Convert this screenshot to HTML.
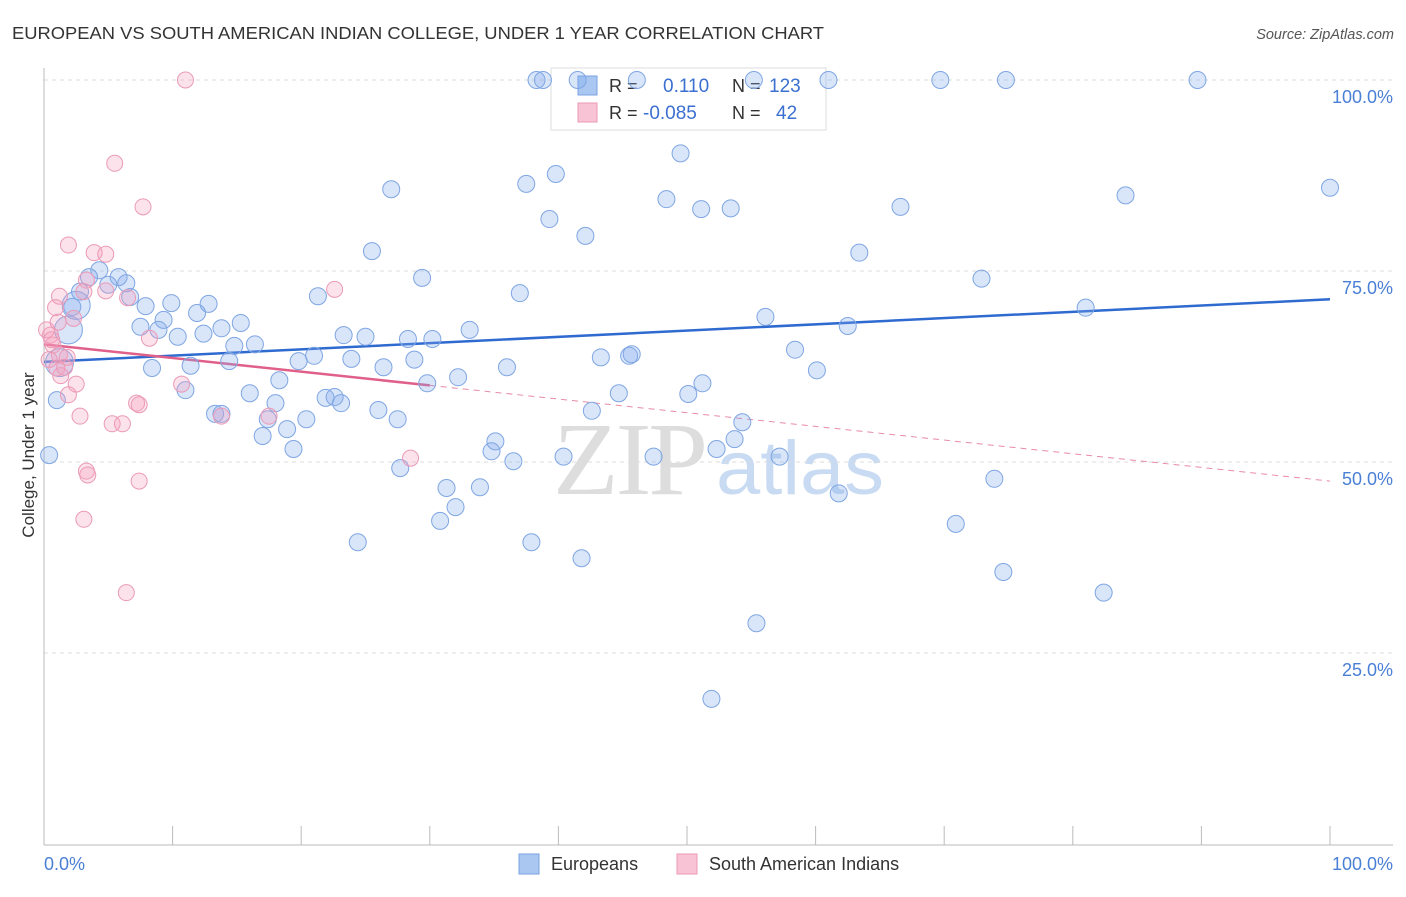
<!DOCTYPE html>
<html><head><meta charset="utf-8"><style>
body{margin:0;background:#fff;font-family:"Liberation Sans",sans-serif;}
</style></head><body>
<svg id="chart" width="1406" height="892" xmlns="http://www.w3.org/2000/svg" style="font-family:'Liberation Sans',sans-serif">
<text x="12" y="39" font-size="17.5" fill="#333" textLength="812" lengthAdjust="spacingAndGlyphs">EUROPEAN VS SOUTH AMERICAN INDIAN COLLEGE, UNDER 1 YEAR CORRELATION CHART</text>
<text x="1394" y="39" font-size="14.5" fill="#555" font-style="italic" text-anchor="end">Source: ZipAtlas.com</text>
<g>
<text x="553" y="494" font-size="104" fill="#ddd" font-family="Liberation Serif, serif" letter-spacing="-3" textLength="152" lengthAdjust="spacingAndGlyphs">ZIP</text>
<text x="716" y="494" font-size="76" fill="#c8dbf3" textLength="168" lengthAdjust="spacingAndGlyphs">atlas</text>
</g>
<g id="grid"></g><g id="axes"></g>
<g>
<rect x="551" y="68" width="275" height="62" fill="#fff" stroke="#ddd"/>
<rect x="578" y="76" width="19" height="19" fill="#aac7f2" stroke="#7aa3e0"/>
<rect x="578" y="103" width="19" height="19" fill="#f8c3d4" stroke="#eb98b5"/>
<text x="609" y="92" font-size="18" fill="#333">R =</text>
<text x="663" y="92" font-size="19" fill="#3b6fd0">0.110</text>
<text x="732" y="92" font-size="18" fill="#333">N =</text>
<text x="769" y="92" font-size="19" fill="#3b6fd0">123</text>
<text x="609" y="119" font-size="18" fill="#333">R =</text>
<text x="643" y="119" font-size="19" fill="#3b6fd0">-0.085</text>
<text x="732" y="119" font-size="18" fill="#333">N =</text>
<text x="776" y="119" font-size="19" fill="#3b6fd0">42</text>
</g>
<g id="trends"></g><g id="pts"></g>
<text transform="translate(34,455) rotate(-90)" font-size="17" fill="#333" text-anchor="middle">College, Under 1 year</text>
<g>
<rect x="519" y="854" width="20" height="20" fill="#aac7f2" stroke="#7aa3e0"/>
<text x="551" y="870" font-size="18" fill="#333">Europeans</text>
<rect x="677" y="854" width="20" height="20" fill="#f8c3d4" stroke="#eb98b5"/>
<text x="709" y="870" font-size="18" fill="#333">South American Indians</text>
</g>
</svg>
<script>
const blueX=[38.3,38.8,41.5,46.1,55.2,61.0,69.7,74.8,89.7,49.5,27.0,37.5,39.8,48.4,51.1,53.4,66.6,84.1,100.0,39.3,42.1,25.5,63.4,29.4,72.9,37.0,21.3,4.3,5.8,6.4,5.0,3.5,2.8,2.2,6.7,7.9,9.9,12.8,11.9,9.3,7.5,8.9,10.4,13.8,15.3,12.4,14.8,16.4,23.3,25.0,28.3,30.2,33.1,56.1,81.0,62.5,58.4,60.1,19.8,21.0,23.9,26.4,28.8,36.0,32.2,29.8,18.3,16.0,11.0,14.4,11.4,8.4,43.3,45.5,45.7,51.2,50.1,44.7,21.9,22.6,23.1,18.0,13.3,13.8,17.4,20.4,26.0,27.5,18.9,17.0,19.4,35.1,34.8,36.5,40.4,47.4,42.6,54.3,53.7,52.3,57.2,61.8,73.9,27.7,31.3,32.0,30.8,33.9,24.4,37.9,41.8,70.9,74.6,82.4,55.4,51.9,1.0,0.4,1.2,1.9,2.5];
const blueY=[100,100,100,100,100,100,100,100,100,90.4,85.7,86.4,87.7,84.4,83.1,83.2,83.4,84.9,85.9,81.8,79.6,77.6,77.4,74.1,74.0,72.1,71.7,75.1,74.2,73.4,73.2,74.2,72.3,70.3,71.6,70.4,70.8,70.7,69.5,68.6,67.7,67.3,66.4,67.5,68.2,66.8,65.2,65.4,66.6,66.4,66.1,66.1,67.3,69.0,70.2,67.8,64.7,62.0,63.2,63.9,63.5,62.4,63.4,62.4,61.1,60.3,60.7,59.0,59.4,63.2,62.6,62.3,63.7,63.9,64.1,60.3,58.9,59.0,58.4,58.5,57.7,57.7,56.3,56.3,55.6,55.6,56.8,55.6,54.3,53.4,51.7,52.7,51.4,50.1,50.7,50.7,56.7,55.2,53.0,51.7,50.7,45.9,47.8,49.2,46.6,44.1,42.3,46.7,39.5,39.5,37.4,41.9,35.6,32.9,28.9,19.0,58.1,50.9,63.0,67.3,70.5];
const blueBig=[118,119,120,121,122];
const pinkX=[11.0,5.5,7.7,1.9,3.9,4.8,3.3,3.1,4.8,6.5,1.2,0.9,2.3,22.6,8.2,0.5,0.7,1.2,1.8,0.4,1.0,1.3,2.5,10.7,1.9,7.2,7.4,13.8,17.5,2.8,5.3,6.1,3.3,3.4,7.4,28.5,3.1,6.4,0.2,0.6,1.1,1.6];
const pinkY=[100,89.1,83.4,78.4,77.4,77.2,73.8,72.3,72.4,71.5,71.7,70.2,68.8,72.6,66.2,66.6,65.3,64.0,63.7,63.4,62.3,61.3,60.2,60.2,58.8,57.7,57.5,56.0,56.0,56.0,55.0,55.0,48.8,48.3,47.5,50.5,42.5,32.9,67.3,66.0,68.3,62.4];
const blueTrend=[63.1,71.3];
const pinkTrend=[65.4,47.5];
const pinkSolidEnd=30;
const yTicks=[100,75,50,25];
const yTickLabels=["100.0%","75.0%","50.0%","25.0%"];
const xTicks=[0,10,20,30,40,50,60,70,80,90,100];
const X0=44,X1=1330,Y100=80,Y0=844;
const xs=v=>X0+(X1-X0)*v/100, ys=v=>Y0-(Y0-Y100)*v/100;
const NS="http://www.w3.org/2000/svg";
function mk(t,a,p){const e=document.createElementNS(NS,t);for(const k in a)e.setAttribute(k,a[k]);document.getElementById(p).appendChild(e);return e;}
yTicks.forEach((v,i)=>{
 const l=mk('line',{x1:X0,x2:1393,y1:ys(v),y2:ys(v),stroke:'#ddd','stroke-dasharray':'4,4'},'grid');
 
 
 const t=mk('text',{x:1393,y:ys(v)+23,'font-size':18,fill:'#4a7fd6','text-anchor':'end'},'axes');
 t.textContent=yTickLabels[i];
 
 
});
const ax=mk('line',{x1:X0,x2:X0,y1:68,y2:845,stroke:'#bbb'},'axes');


const bx=mk('line',{x1:X0,x2:1393,y1:845,y2:845,stroke:'#bbb'},'axes');


xTicks.forEach(v=>{const l=mk('line',{x1:xs(v),x2:xs(v),y1:826,y2:845,stroke:'#bbb'},'axes');
 
 });
const t0=mk('text',{x:44,y:870,'font-size':18,fill:'#4a7fd6'},'axes');t0.textContent='0.0%';


const t1=mk('text',{x:1393,y:870,'font-size':18,fill:'#4a7fd6','text-anchor':'end'},'axes');t1.textContent='100.0%';


blueX.forEach((x,i)=>{const big=blueBig.includes(i);
 const c=mk('circle',{cx:xs(x),cy:ys(blueY[i]),r:big?14:8.5,fill:'rgba(130,170,235,0.3)',stroke:'#7fa6e3','stroke-width':1},'pts');
 
 });
pinkX.forEach((x,i)=>{
 const c=mk('circle',{cx:xs(x),cy:ys(pinkY[i]),r:8,fill:'rgba(245,160,190,0.3)',stroke:'#eb9ab7','stroke-width':1},'pts');
 
 });
const pAt=x=>pinkTrend[0]+(pinkTrend[1]-pinkTrend[0])*x/100;
const bl=mk('line',{x1:xs(0),y1:ys(blueTrend[0]),x2:xs(100),y2:ys(blueTrend[1]),stroke:'#2f6ad0','stroke-width':2.5},'trends');


const pl=mk('line',{x1:xs(0),y1:ys(pAt(0)),x2:xs(pinkSolidEnd),y2:ys(pAt(pinkSolidEnd)),stroke:'#e0608a','stroke-width':2.5},'trends');


const pd=mk('line',{x1:xs(pinkSolidEnd),y1:ys(pAt(pinkSolidEnd)),x2:xs(100),y2:ys(pAt(100)),stroke:'#e88aa8','stroke-width':1,'stroke-dasharray':'6,5'},'trends');


</script>
</body></html>
